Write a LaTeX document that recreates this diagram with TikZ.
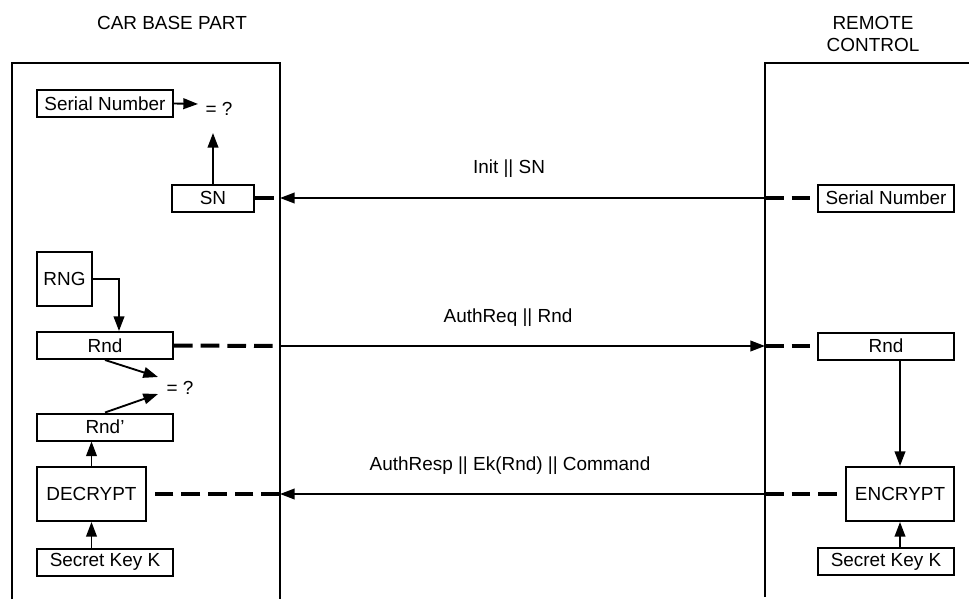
\documentclass[tikz,border=0pt]{standalone}
\usepackage{fontspec}
\setmainfont{Liberation Sans}
\usetikzlibrary{arrows.meta}
\begin{document}
\begin{tikzpicture}[x=0.75pt,y=-0.75pt,
  every node/.style={font=\fontsize{14.2}{17}\selectfont},
  box/.style={draw,line width=1.5pt,inner sep=0pt,minimum height=20.25pt},
  widebox/.style={box,minimum width=102pt},
  arr/.style={line width=1.4pt,-{Triangle[length=11pt,width=8pt]}},
  msg/.style={line width=1.3pt,-{Triangle[length=11pt,width=8pt]}},
  thickdash/.style={line width=3pt,dash pattern=on 14pt off 6pt},
  frame/.style={line width=1.5pt}]
\useasboundingbox (0,0) rectangle (969,599);

% frames
\coordinate (LBL) at (12,599);
\coordinate (LTL) at (12,63);
\coordinate (LTR) at (280,63);
\coordinate (LBR) at (280,599);
\coordinate (RBL) at (765,597);
\coordinate (RTL) at (765,63);
\coordinate (RTR) at (969,63);
\draw[frame] (LBL) -- (LTL) -- (LTR) -- (LBR);
\draw[frame] (RBL) -- (RTL) -- (RTR);

% titles
\node (tleft) at (172,23) {CAR BASE PART};
\node[align=center] (tright) at (873,34) {REMOTE\\CONTROL};

% left boxes
\node[widebox] (serL) at (105,103.5) {Serial Number};
\node[box,minimum width=61.5pt] (sn) at (213,198) {SN};
\node[box,minimum width=41.25pt,minimum height=40.5pt] (rng) at (64.5,279) {RNG};
\node[widebox] (rndL) at (105,345.5) {Rnd};
\node[widebox] (rndp) at (105,427) {Rnd'};
\node[box,minimum width=81.75pt,minimum height=40.5pt] (dec) at (91.5,494) {DECRYPT};
\node[widebox] (skL) at (105,562) {Secret Key K};

% right boxes
\node[widebox] (serR) at (886,198) {Serial Number};
\node[widebox] (rndR) at (886,346) {Rnd};
\node[box,minimum width=81pt,minimum height=40.5pt] (enc) at (900,494) {ENCRYPT};
\node[widebox] (skR) at (886,561.5) {Secret Key K};

% comparisons
\node[inner sep=0pt] (eqA) at (219,109) {= ?};
\node[inner sep=0pt] (eqB) at (180,388) {= ?};
\coordinate (eqAin1) at (198,104);
\coordinate (eqAin2) at (213,133);
\coordinate (eqBin1) at (158,377);
\coordinate (eqBin2) at (158,394);
\coordinate (rngturn) at (119,279);

\draw[arr] (serL.east) -- (eqAin1);
\draw[arr] (sn.north) -- (eqAin2);
\draw[arr] (rng.east) -- (rngturn) -- (rngturn |- rndL.north);
\draw[arr] (rndL.south) -- (eqBin1);
\draw[arr] (rndp.north) -- (eqBin2);
\draw[arr] (dec.north) -- (dec.north |- rndp.south);
\draw[arr] (dec.south |- skL.north) -- (dec.south);
\draw[arr] (enc.north |- rndR.south) -- (enc.north);
\draw[arr] (enc.south |- skR.north) -- (enc.south);

% frame crossing points
\coordinate (m1L) at (280,198);
\coordinate (m1R) at (765,198);
\coordinate (m2L) at (280,346);
\coordinate (m2R) at (765,346);
\coordinate (m3L) at (280,494);
\coordinate (m3R) at (765,494);

% messages
\draw[msg] (m1R) -- (m1L);
\draw[thickdash] (m1R) -- (serR.west);
\draw[thickdash] (sn.east) -- (m1L);
\node (l1) at (509,169) {Init || SN};

\draw[msg] (m2L) -- (m2R);
\draw[thickdash] (rndL.east) -- (m2L);
\draw[thickdash] (m2R) -- (rndR.west);
\node (l2) at (508,318) {AuthReq || Rnd};

\draw[msg] (m3R) -- (m3L);
\draw[thickdash] (m3R) -- (enc.west);
\draw[thickdash] (m3L) -- (dec.east);
\node (l3) at (510,466) {AuthResp || Ek(Rnd) || Command};
\end{tikzpicture}
\end{document}
